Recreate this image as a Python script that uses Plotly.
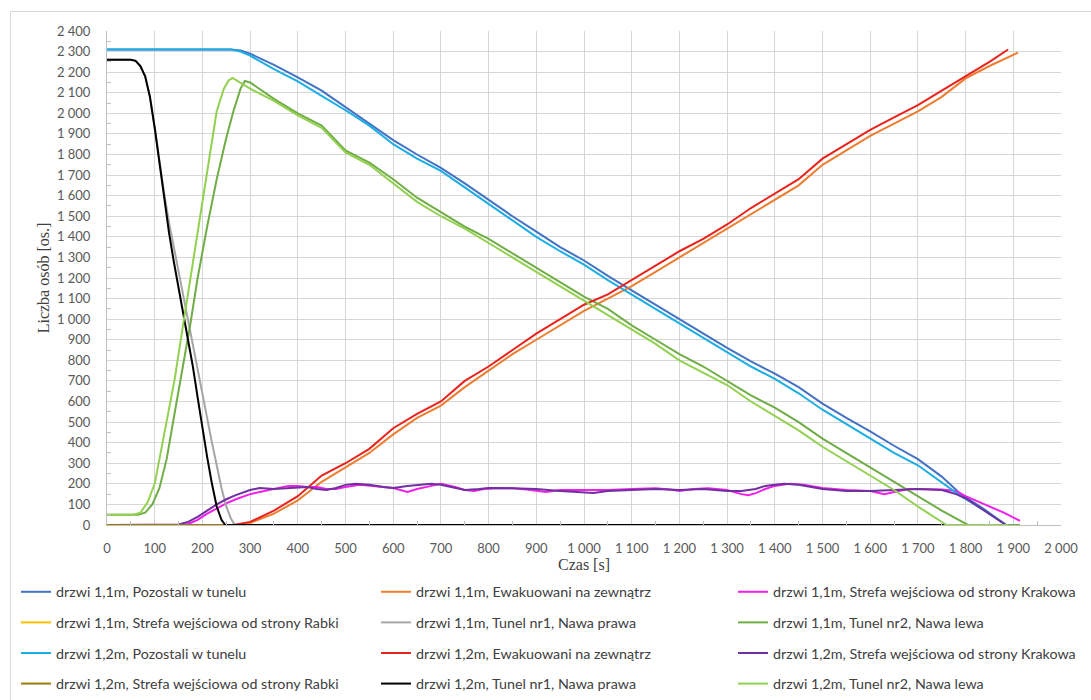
import plotly.graph_objects as go

# ---- series data: time [s] and number of persons [os.] ----
t_poz_11 = [0, 260, 280, 300, 350, 400, 450, 500, 550, 600, 650, 700, 750, 800, 850, 900, 950, 1000,
            1050, 1100, 1150, 1200, 1250, 1300, 1350, 1400, 1450, 1500, 1550, 1600, 1650, 1700, 1750,
            1790, 1840, 1885]
v_poz_11 = [2310, 2310, 2305, 2290, 2235, 2175, 2110, 2030, 1950, 1870, 1800, 1735, 1660, 1580, 1500,
            1425, 1350, 1285, 1210, 1140, 1070, 1000, 930, 860, 795, 735, 670, 590, 520, 455, 385, 320,
            235, 150, 75, 0]

t_poz_12 = t_poz_11
v_poz_12 = [2310, 2310, 2300, 2280, 2215, 2155, 2085, 2015, 1940, 1850, 1780, 1720, 1640, 1560, 1480,
            1400, 1330, 1265, 1190, 1120, 1050, 980, 910, 840, 770, 710, 640, 560, 490, 420, 350, 290,
            205, 140, 70, 0]

t_ewak_11 = [0, 280, 300, 350, 400, 450, 500, 550, 600, 650, 700, 750, 800, 850, 900, 950, 1000, 1050,
             1100, 1150, 1200, 1250, 1300, 1350, 1400, 1450, 1500, 1550, 1600, 1650, 1700, 1750, 1800,
             1850, 1910]
v_ewak_11 = [0, 0, 10, 55, 120, 210, 280, 350, 440, 520, 580, 670, 750, 830, 900, 970, 1040, 1100,
             1160, 1230, 1300, 1370, 1440, 1510, 1580, 1650, 1750, 1820, 1890, 1950, 2010, 2080, 2170,
             2230, 2295]

t_ewak_12 = [0, 265, 300, 350, 400, 450, 500, 550, 600, 650, 700, 750, 800, 850, 900, 950, 1000, 1050,
             1100, 1150, 1200, 1250, 1300, 1350, 1400, 1450, 1500, 1550, 1600, 1650, 1700, 1750, 1800,
             1850, 1889]
v_ewak_12 = [0, 0, 15, 70, 140, 240, 300, 370, 470, 540, 600, 700, 770, 850, 930, 1000, 1070, 1120,
             1190, 1260, 1330, 1390, 1460, 1540, 1610, 1680, 1780, 1850, 1920, 1980, 2040, 2110, 2180,
             2250, 2310]

t_krak_11 = [0, 150, 170, 190, 210, 230, 250, 270, 300, 330, 360, 380, 400, 420, 440, 460, 480, 500,
             530, 560, 600, 630, 650, 680, 700, 730, 750, 770, 790, 820, 850, 880, 900, 920, 950, 1000,
             1050, 1100, 1150, 1180, 1200, 1230, 1260, 1300, 1330, 1345, 1360, 1380, 1400, 1430, 1460,
             1500, 1550, 1600, 1630, 1650, 1680, 1700, 1750, 1780, 1800, 1840, 1880, 1914]
v_krak_11 = [0, 0, 5, 25, 55, 80, 105, 125, 150, 165, 180, 190, 190, 185, 185, 175, 175, 185,
             195, 190, 180, 160, 175, 190, 200, 185, 170, 165, 175, 180, 178, 172, 165, 160, 170, 170,
             170, 175, 178, 172, 165, 175, 178, 170, 150, 145, 155, 175, 190, 200, 195,
             180, 170, 165, 150, 160, 175, 175, 172, 165, 140, 100, 60, 20]

t_krak_12 = [0, 135, 150, 170, 190, 210, 230, 250, 270, 300, 320, 350, 380, 400, 420, 440, 460, 480,
             500, 520, 550, 580, 600, 630, 650, 680, 700, 720, 750, 780, 800, 850, 900, 950, 1000, 1020,
             1050, 1100, 1150, 1200, 1250, 1300, 1330, 1360, 1380, 1400, 1420, 1450, 1480, 1500, 1550,
             1600, 1650, 1700, 1750, 1780, 1800, 1840, 1885]
v_krak_12 = [0, 0, 3, 15, 40, 70, 100, 125, 145, 170, 180, 175, 180, 180, 185, 175, 170, 180,
             195, 200, 195, 185, 180, 190, 195, 200, 195, 185, 170, 175, 180, 178, 175, 165, 160, 155,
             165, 170, 175, 170, 175, 165, 165, 175, 190, 195, 200, 195, 185, 175, 165,
             165, 170, 175, 170, 150, 130, 70, 0]

t_rabki_11 = [0, 1914]
v_rabki_11 = [0, 0]
t_rabki_12 = [0, 1889]
v_rabki_12 = [0, 0]

t_tun1_11 = [0, 50, 60, 70, 80, 90, 100, 110, 120, 130, 140, 150, 160, 170, 180, 190, 200, 210, 220,
             230, 240, 250, 260, 268, 1914]
v_tun1_11 = [2260, 2260, 2255, 2230, 2180, 2080, 1930, 1760, 1610, 1470, 1350, 1230, 1120, 1000, 880,
             760, 640, 520, 400, 290, 180, 90, 30, 0, 0]

t_tun1_12 = [0, 50, 60, 70, 80, 90, 100, 110, 120, 130, 140, 150, 160, 170, 180, 190, 200, 210, 220,
             230, 240, 248, 1889]
v_tun1_12 = [2260, 2260, 2255, 2230, 2180, 2080, 1930, 1760, 1590, 1420, 1280, 1150, 1040, 900, 770,
             620, 470, 330, 200, 90, 25, 0, 0]

t_tun2_11 = [0, 65, 80, 95, 110, 125, 140, 158, 175, 190, 210, 230, 250, 265, 280, 289, 300, 350, 400,
             450, 500, 550, 600, 650, 700, 750, 800, 850, 900, 950, 1000, 1050, 1100, 1150, 1200, 1250,
             1300, 1350, 1400, 1450, 1500, 1550, 1600, 1650, 1700, 1750, 1805, 1914]
v_tun2_11 = [50, 50, 60, 100, 180, 320, 520, 750, 980, 1200, 1450, 1680, 1880, 2010, 2120, 2157, 2150,
             2070, 2000, 1940, 1820, 1760, 1680, 1590, 1520, 1450, 1390, 1320, 1250, 1180, 1110, 1050,
             970, 900, 830, 770, 700, 630, 570, 500, 420, 350, 280, 210, 140, 70, 0, 0]

t_tun2_12 = [0, 55, 70, 85, 100, 110, 125, 142, 160, 180, 200, 215, 230, 245, 255, 263, 280, 300, 350,
             400, 450, 500, 550, 600, 650, 700, 750, 800, 850, 900, 950, 1000, 1050, 1100, 1150, 1200,
             1250, 1300, 1350, 1400, 1450, 1500, 1550, 1600, 1650, 1700, 1760, 1889]
v_tun2_12 = [50, 50, 60, 110, 200, 320, 500, 710, 980, 1280, 1580, 1800, 2010, 2120, 2160, 2172, 2150,
             2120, 2060, 1990, 1930, 1810, 1750, 1660, 1570, 1500, 1440, 1370, 1300, 1230, 1160, 1090,
             1020, 950, 880, 800, 740, 680, 600, 530, 460, 380, 310, 240, 170, 90, 0, 0]

# (name, times, values, colour, legend column)
series = [
    ("drzwi 1,1m, Pozostali w tunelu", t_poz_11, v_poz_11, "#4472C4", "legend"),
    ("drzwi 1,1m, Ewakuowani na zewnątrz", t_ewak_11, v_ewak_11, "#ED7D31", "legend2"),
    ("drzwi 1,1m, Strefa wejściowa od strony Krakowa", t_krak_11, v_krak_11, "#F020E8", "legend3"),
    ("drzwi 1,1m, Strefa wejściowa od strony Rabki", t_rabki_11, v_rabki_11, "#FFC000", "legend"),
    ("drzwi 1,1m, Tunel nr1, Nawa prawa", t_tun1_11, v_tun1_11, "#A5A5A5", "legend2"),
    ("drzwi 1,1m, Tunel nr2, Nawa lewa", t_tun2_11, v_tun2_11, "#70AD47", "legend3"),
    ("drzwi 1,2m, Pozostali w tunelu", t_poz_12, v_poz_12, "#1CADE4", "legend"),
    ("drzwi 1,2m, Ewakuowani na zewnątrz", t_ewak_12, v_ewak_12, "#E8231C", "legend2"),
    ("drzwi 1,2m, Strefa wejściowa od strony Krakowa", t_krak_12, v_krak_12, "#7030A0", "legend3"),
    ("drzwi 1,2m, Strefa wejściowa od strony Rabki", t_rabki_12, v_rabki_12, "#9C7A12", "legend"),
    ("drzwi 1,2m, Tunel nr1, Nawa prawa", t_tun1_12, v_tun1_12, "#000000", "legend2"),
    ("drzwi 1,2m, Tunel nr2, Nawa lewa", t_tun2_12, v_tun2_12, "#92D050", "legend3"),
]

fig = go.Figure()
for i, (name, t, v, col, leg) in enumerate(series):
    fig.add_trace(go.Scatter(
        x=t, y=v, name=name, mode="lines",
        line=dict(color=col, width=2),
        legend=leg, legendgroup=f"g{i}",
    ))

W, H = 1091, 700
ML, MR, MT, MB = 107, 30, 31, 175
pw, ph = W - ML - MR, H - MT - MB


def px_x(px):
    return (px - ML) / pw


def px_y(py):
    return (H - MB - py) / ph


legend_style = dict(
    font=dict(family="Lato", size=14.3, color="#404040"),
    bgcolor="rgba(0,0,0,0)", borderwidth=0,
    orientation="v", tracegroupgap=9, itemwidth=30,
    xanchor="left", yanchor="top", y=px_y(576),
)

tick_font = dict(family="Lato", size=13, color="#595959")
title_font = dict(family="Liberation Serif", size=16, color="#404040")

fig.update_layout(
    width=W, height=H,
    margin=dict(l=ML, r=MR, t=MT, b=MB, autoexpand=False),
    paper_bgcolor="white", plot_bgcolor="white",
    separators=", ",
    legend=dict(legend_style, x=px_x(16)),
    legend2=dict(legend_style, x=px_x(376)),
    legend3=dict(legend_style, x=px_x(733)),
    xaxis=dict(
        range=[0, 2000], dtick=100, tickformat=",d",
        showgrid=True, gridcolor="#d6d6d6", gridwidth=1,
        showline=True, linecolor="#bfbfbf", linewidth=1,
        ticks="", ticklabelstandoff=11, tickfont=tick_font,
        minor=dict(dtick=50, ticks="inside", ticklen=4, tickcolor="#bfbfbf", showgrid=False),
        zeroline=False, mirror=False, automargin=False,
        title=dict(text="Czas [s]", font=title_font, standoff=4),
    ),
    yaxis=dict(
        range=[0, 2400], dtick=100, tickformat=",d",
        showgrid=True, gridcolor="#d6d6d6", gridwidth=1,
        showline=True, linecolor="#bfbfbf", linewidth=1,
        ticks="", ticklabelstandoff=13, tickfont=tick_font,
        minor=dict(dtick=50, ticks="inside", ticklen=4, tickcolor="#bfbfbf", showgrid=False),
        zeroline=False, automargin=False,
        title=dict(text="Liczba osób [os.]", font=title_font, standoff=3),
    ),
    shapes=[
        # outer chart frame
        dict(type="rect", xref="paper", yref="paper",
             x0=px_x(10.5), x1=px_x(1200), y0=px_y(760), y1=px_y(11.5),
             line=dict(color="#d9d9d9", width=1), fillcolor="rgba(0,0,0,0)", layer="below"),
    ],
)

fig.write_html("out.html")
